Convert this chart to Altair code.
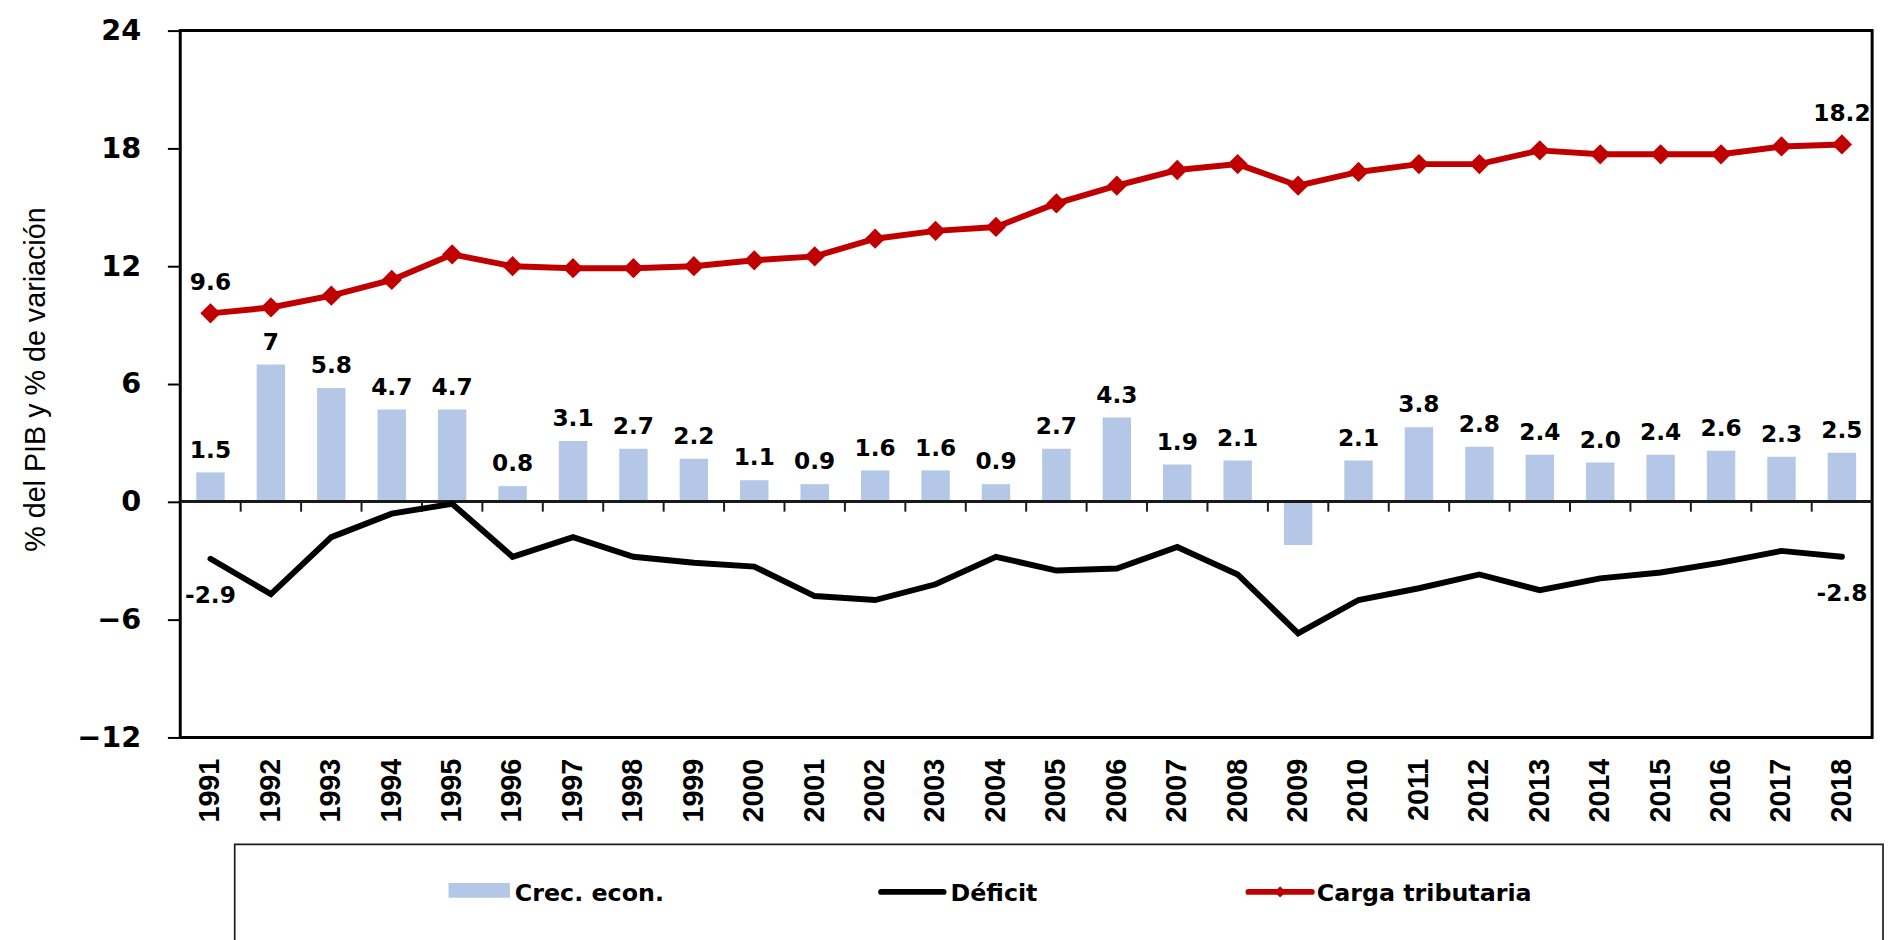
import altair as alt
import pandas as pd

# ---------------- data ----------------
years = ["1991", "1992", "1993", "1994", "1995", "1996", "1997", "1998", "1999", "2000",
         "2001", "2002", "2003", "2004", "2005", "2006", "2007", "2008", "2009", "2010",
         "2011", "2012", "2013", "2014", "2015", "2016", "2017", "2018"]
crec = [1.5, 7.0, 5.8, 4.7, 4.7, 0.8, 3.1, 2.7, 2.2, 1.1, 0.9, 1.6, 1.6, 0.9, 2.7, 4.3,
        1.9, 2.1, -2.2, 2.1, 3.8, 2.8, 2.4, 2.0, 2.4, 2.6, 2.3, 2.5]
crec_labels = ["1.5", "7", "5.8", "4.7", "4.7", "0.8", "3.1", "2.7", "2.2", "1.1", "0.9",
               "1.6", "1.6", "0.9", "2.7", "4.3", "1.9", "2.1", "", "2.1", "3.8", "2.8",
               "2.4", "2.0", "2.4", "2.6", "2.3", "2.5"]
deficit = [-2.9, -4.7, -1.8, -0.6, -0.1, -2.8, -1.8, -2.8, -3.1, -3.3, -4.8, -5.0, -4.2,
           -2.8, -3.5, -3.4, -2.3, -3.7, -6.7, -5.0, -4.4, -3.7, -4.5, -3.9, -3.6, -3.1,
           -2.5, -2.8]
carga = [9.6, 9.9, 10.5, 11.3, 12.6, 12.0, 11.9, 11.9, 12.0, 12.3, 12.5, 13.4, 13.8, 14.0,
         15.2, 16.1, 16.9, 17.2, 16.1, 16.8, 17.2, 17.2, 17.9, 17.7, 17.7, 17.7, 18.1, 18.2]
y_ticks = [-12, -6, 0, 6, 12, 18, 24]
legend_names = ["Crec. econ.", "Déficit", "Carga tributaria"]
y_title = "% del PIB y % de variación"

# ---------------- styles ----------------
BLUE = "#B4C7E7"
RED = "#C00000"
BLACK = "#000000"
BOLD = "DejaVu Sans"

n = len(years)
df = pd.DataFrame({
    "year": years,
    "crec": crec,
    "crec_label": crec_labels,
    "deficit": deficit,
    "carga": carga,
    "carga_label": [f"{carga[0]}"] + [""] * (n - 2) + [f"{carga[-1]}"],
    "deficit_label": [f"{deficit[0]}"] + [""] * (n - 2) + [f"{deficit[-1]}"],
})
df_ticks = pd.DataFrame({"year": years[1:]})

x_scale = alt.Scale(domain=years, paddingInner=0, paddingOuter=0)
x_axis = alt.Axis(title=None, labelAngle=-90, labelFont="Liberation Sans",
                  labelFontWeight="bold", labelFontSize=29, labelColor=BLACK,
                  ticks=False, tickSize=0, domain=False, labelPadding=21, grid=False)
y_scale = alt.Scale(domain=[-12, 24], nice=False, zero=False)
y_axis = alt.Axis(values=y_ticks, title=y_title, titleFont="Liberation Sans",
                  titleFontWeight="normal", titleFontSize=29, titleColor=BLACK,
                  titleX=-131, titleY=352,
                  labelFont=BOLD, labelFontWeight="bold", labelFontSize=29,
                  labelColor=BLACK, labelPadding=27, tickSize=13, tickWidth=2,
                  tickColor=BLACK, domain=False, grid=False)


def X(**kw):
    return alt.X("year:N", scale=x_scale, axis=x_axis, sort=years, **kw)


def Y(field):
    return alt.Y(f"{field}:Q", scale=y_scale, axis=y_axis)


base = alt.Chart(df)

bars = base.mark_bar(color=BLUE, width=alt.RelativeBandSize(0.47)).encode(x=X(), y=Y("crec"))

zero = alt.Chart(df).mark_rule(color="#1a1a1a", strokeWidth=2).encode(
    y=alt.datum(0, scale=y_scale, axis=y_axis))

ticks = alt.Chart(df_ticks).mark_rule(color="#1a1a1a", strokeWidth=2).encode(
    x=X(bandPosition=0),
    y=alt.datum(0, scale=y_scale, axis=y_axis),
    y2=alt.datum(-0.5))

def_line = base.mark_line(color=BLACK, strokeWidth=6, strokeCap="round").encode(
    x=X(), y=Y("deficit"))

carga_line = base.mark_line(
    color=RED, strokeWidth=6,
    point=alt.OverlayMarkDef(shape="diamond", size=420, color=RED, filled=True, opacity=1),
).encode(x=X(), y=Y("carga"))

txt = dict(font=BOLD, fontWeight="bold", fontSize=23.5, color=BLACK, align="center",
           baseline="alphabetic")
crec_txt = base.mark_text(dy=-15, **txt).encode(x=X(), y=Y("crec"), text="crec_label:N")
carga_txt = base.mark_text(dy=-24, **txt).encode(x=X(), y=Y("carga"), text="carga_label:N")
def_txt = base.mark_text(dy=45, **txt).encode(x=X(), y=Y("deficit"), text="deficit_label:N")

main = alt.layer(bars, zero, ticks, def_line, carga_line, crec_txt, carga_txt, def_txt).properties(
    width=1709, height=714,
    view=alt.ViewBackground(stroke=BLACK, strokeWidth=3),
)

# ---------------- legend panel (page-pixel layout) ----------------
lx = alt.Scale(domain=[180, 1900], nice=False, zero=False)
ly = alt.Scale(domain=[835, 960], nice=False, zero=False, reverse=True)

box_df = pd.DataFrame({"x1": [235], "x2": [1900], "y1": [848], "y2": [960]})
sw_df = pd.DataFrame({"x1": [451], "x2": [513], "y1": [887], "y2": [902]})
ln_df = pd.DataFrame({"x1": [888, 1259], "x2": [951, 1323], "y1": [896, 896],
                      "c": [BLACK, RED]})
dm_df = pd.DataFrame({"x1": [1291], "y1": [896]})
tx_df = pd.DataFrame({"x1": [518, 958, 1328], "y1": [905, 905, 905], "t": legend_names})

lbox = alt.Chart(box_df).mark_rect(fill="transparent", stroke="#1a1a1a", strokeWidth=1.7).encode(
    x=alt.X("x1:Q", scale=lx, axis=None), x2="x2:Q",
    y=alt.Y("y1:Q", scale=ly, axis=None), y2="y2:Q")
lsw = alt.Chart(sw_df).mark_rect(color=BLUE).encode(
    x=alt.X("x1:Q", scale=lx, axis=None), x2="x2:Q",
    y=alt.Y("y1:Q", scale=ly, axis=None), y2="y2:Q")
lln = alt.Chart(ln_df).mark_rule(strokeWidth=6, strokeCap="round").encode(
    x=alt.X("x1:Q", scale=lx, axis=None), x2="x2:Q",
    y=alt.Y("y1:Q", scale=ly, axis=None), color=alt.Color("c:N", scale=None))
ldm = alt.Chart(dm_df).mark_point(shape="diamond", filled=True, size=130, color=RED, opacity=1).encode(
    x=alt.X("x1:Q", scale=lx, axis=None), y=alt.Y("y1:Q", scale=ly, axis=None))
ltx = alt.Chart(tx_df).mark_text(font=BOLD, fontWeight="bold", fontSize=24, color=BLACK,
                                 align="left", baseline="alphabetic").encode(
    x=alt.X("x1:Q", scale=lx, axis=None), y=alt.Y("y1:Q", scale=ly, axis=None), text="t:N")

legend = alt.layer(lbox, lsw, lln, ldm, ltx).properties(
    width=1720, height=125,
    view=alt.ViewBackground(stroke="transparent"),
)

chart = alt.vconcat(main, legend, spacing=95, bounds="flush").properties(
    padding={"left": 12, "top": 2, "right": 0, "bottom": 0},
    background="white",
)

chart.save("out.html", embed_options={"renderer": "svg", "actions": False})
